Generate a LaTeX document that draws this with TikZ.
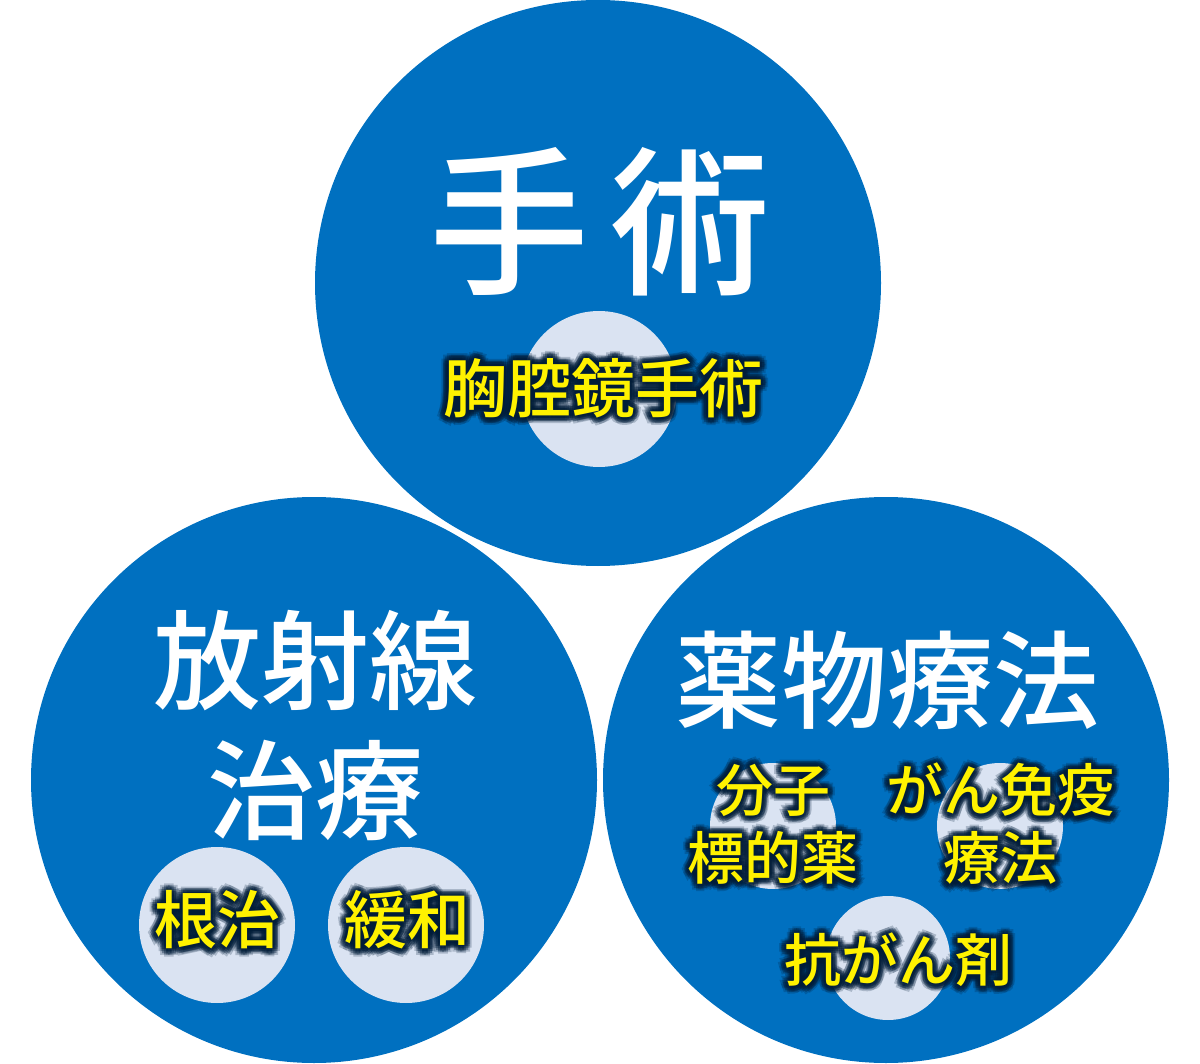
\documentclass[tikz,border=0pt]{standalone}
\usepackage{fontspec}
\newfontfamily\cjk{Noto Sans CJK JP Medium}
\newfontfamily\cjkglow[FakeBold=6]{Noto Sans CJK JP Medium}
\usetikzlibrary{calc}
\definecolor{bigblue}{RGB}{0,112,192}
\definecolor{pale}{RGB}{218,227,242}
\definecolor{glowc}{RGB}{0,28,56}
\tikzset{
  bigc/.style={circle,fill=bigblue,draw=none},
  smallc/.style={circle,fill=pale,draw=none},
  white title/.style={text=white,inner sep=0pt,align=center},
  yel/.style={text=yellow,inner sep=0pt,align=center},
  glow/.style={text=glowc,opacity=0.22,inner sep=0pt,align=center},
}
% #1 name, #2 position, #3 size/leading, #4 text
\newcommand\glowtext[4]{%
  \foreach \dx/\dy [count=\i] in {3/0,-3/0,0/3,0/-3,2.2/2.2,-2.2/2.2,2.2/-2.2,-2.2/-2.2,5.5/0,-5.5/0,0/5.5,0/-5.5,3.9/3.9,-3.9/3.9,3.9/-3.9,-3.9/-3.9}{
    \node[glow,font=\cjkglow#3] (#1-g\i) at ($(#2)+(\dx,\dy)$) {#4};
  }
  \node[yel,font=\cjk#3] (#1) at (#2) {#4};
}
\begin{document}
\begin{tikzpicture}[x=1pt,y=-1pt]
\useasboundingbox (0,0) rectangle (1200,1064);
% big circles
\node[bigc,minimum size=566pt] (surg) at (598,283) {};
\node[bigc,minimum size=566pt] (rad) at (314,780) {};
\node[bigc,minimum size=566pt] (drug) at (886,780) {};
% small circles
\node[smallc,minimum size=156pt] (thor) at (599,389) {};
\node[smallc,minimum size=156pt] (cure) at (217,925) {};
\node[smallc,minimum size=156pt] (pall) at (406,925) {};
\node[smallc,minimum size=126pt] (target) at (773,826) {};
\node[smallc,minimum size=126pt] (immuno) at (1000,826) {};
\node[smallc,minimum size=124pt] (chemo) at (888,958) {};
% titles
\node[white title,font=\cjk\fontsize{160}{160}\selectfont] (tsurg) at (600,222) {手\hspace{22pt}術};
\node[white title,font=\cjk\fontsize{108}{130}\selectfont] (trad) at (315,725) {放射線\\治療};
\node[white title,font=\cjk\fontsize{106}{106}\selectfont] (tdrug) at (887,680) {薬物療法};
% labels
\coordinate (pthor) at (603,388);
\coordinate (pcure) at (217,920);
\coordinate (ppall) at (407,920);
\coordinate (ptarget) at (773,824);
\coordinate (pimmuno) at (1000,824);
\coordinate (pchemo) at (898,960);
\glowtext{lthor}{pthor}{\fontsize{64}{64}\selectfont}{胸腔鏡手術}
\glowtext{lcure}{pcure}{\fontsize{63}{63}\selectfont}{根治}
\glowtext{lpall}{ppall}{\fontsize{63}{63}\selectfont}{緩和}
\glowtext{ltarget}{ptarget}{\fontsize{57}{68}\selectfont}{分子\\標的薬}
\glowtext{limmuno}{pimmuno}{\fontsize{57}{68}\selectfont}{がん免疫\\療法}
\glowtext{lchemo}{pchemo}{\fontsize{57}{57}\selectfont}{抗がん剤}
\end{tikzpicture}
\end{document}
